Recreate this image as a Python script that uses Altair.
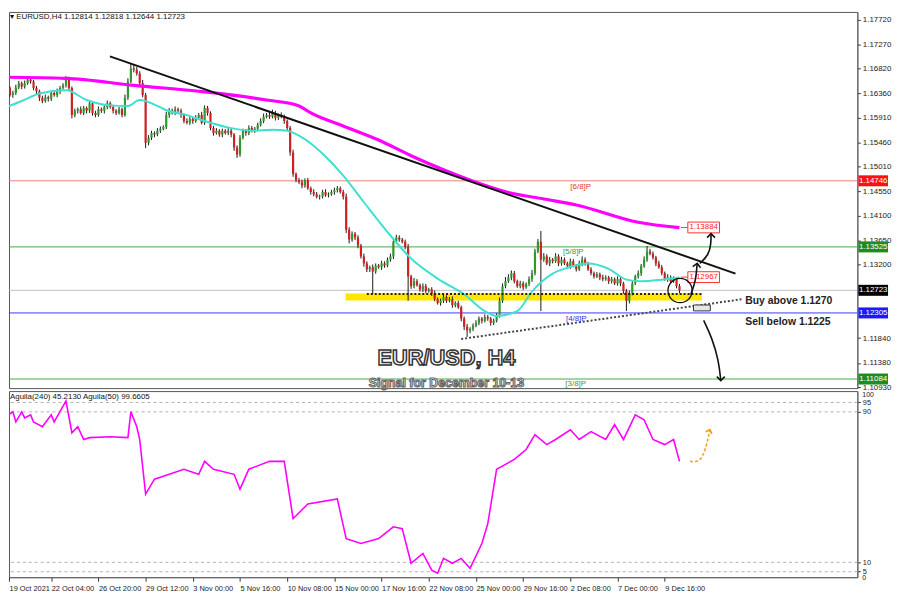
import altair as alt
import pandas as pd

# ---------------- data ----------------
tick_idx = [1.7, 16, 32, 48, 64, 80, 96, 112, 128, 144, 160, 176, 192, 208, 224]
tick_labels = ["19 Oct 2021", "22 Oct 04:00", "26 Oct 20:00", "29 Oct 12:00", "3 Nov 00:00",
               "5 Nov 16:00", "10 Nov 08:00", "15 Nov 00:00", "17 Nov 16:00", "22 Nov 08:00",
               "25 Nov 00:00", "29 Nov 16:00", "2 Dec 08:00", "7 Dec 00:00", "9 Dec 16:00"]

price_ticks = [1.17720, 1.17270, 1.16820, 1.16360, 1.15910, 1.15460, 1.15010, 1.14550,
               1.14100, 1.13650, 1.13200, 1.11840, 1.11380, 1.10930]

first_open = 1.1645
closes = [
    1.1640, 1.1646, 1.1633, 1.1637, 1.1647, 1.1655, 1.1649, 1.1655, 1.1662, 1.1658,
    1.1646, 1.1640, 1.1628, 1.1622, 1.1629, 1.1626, 1.1637, 1.1633, 1.1640, 1.1646,
    1.1651, 1.1662, 1.1646, 1.1596, 1.1604, 1.1607, 1.1600, 1.1609, 1.1604, 1.1618,
    1.1600, 1.1596, 1.1607, 1.1604, 1.1611, 1.1618, 1.1611, 1.1604, 1.1600, 1.1607,
    1.1596, 1.1628, 1.1658, 1.1682, 1.1680, 1.1673, 1.1655, 1.1633, 1.1545, 1.1554,
    1.1563, 1.1560, 1.1567, 1.1571, 1.1574, 1.1596, 1.1604, 1.1600, 1.1607, 1.1604,
    1.1596, 1.1585, 1.1582, 1.1589, 1.1585, 1.1591, 1.1596, 1.1582, 1.1609, 1.1600,
    1.1572, 1.1563, 1.1567, 1.1560, 1.1567, 1.1563, 1.1567, 1.1560, 1.1536, 1.1523,
    1.1554, 1.1567, 1.1563, 1.1572, 1.1567, 1.1571, 1.1578, 1.1585, 1.1593, 1.1596,
    1.1593, 1.1600, 1.1591, 1.1596, 1.1593, 1.1585, 1.1572, 1.1527, 1.1487, 1.1476,
    1.1472, 1.1466, 1.1476, 1.1461, 1.1454, 1.1450, 1.1445, 1.1446, 1.1454, 1.1448,
    1.1450, 1.1454, 1.1457, 1.1461, 1.1454, 1.1445, 1.1384, 1.1366, 1.1377, 1.1370,
    1.1355, 1.1335, 1.1322, 1.1311, 1.1315, 1.1307, 1.1318, 1.1315, 1.1322, 1.1318,
    1.1329, 1.1335, 1.1362, 1.1370, 1.1366, 1.1362, 1.1353, 1.1298, 1.1280, 1.1289,
    1.1282, 1.1274, 1.1280, 1.1271, 1.1274, 1.1267, 1.1256, 1.1249, 1.1253, 1.1260,
    1.1253, 1.1256, 1.1245, 1.1249, 1.1241, 1.1220, 1.1205, 1.1198, 1.1201, 1.1207,
    1.1212, 1.1220, 1.1216, 1.1223, 1.1220, 1.1212, 1.1216, 1.1227, 1.1253, 1.1280,
    1.1289, 1.1296, 1.1304, 1.1289, 1.1280, 1.1285, 1.1278, 1.1284, 1.1293, 1.1304,
    1.1344, 1.1362, 1.1329, 1.1335, 1.1322, 1.1329, 1.1326, 1.1335, 1.1322, 1.1329,
    1.1322, 1.1317, 1.1326, 1.1318, 1.1311, 1.1322, 1.1329, 1.1322, 1.1311, 1.1304,
    1.1298, 1.1302, 1.1296, 1.1293, 1.1296, 1.1289, 1.1293, 1.1285, 1.1293, 1.1285,
    1.1271, 1.1253, 1.1267, 1.1285, 1.1298, 1.1304, 1.1317, 1.1329, 1.1344, 1.1340,
    1.1333, 1.1322, 1.1315, 1.1304, 1.1293, 1.1296, 1.1289, 1.1293, 1.1280, 1.1272,
]
upper_wick_pips = [
    4, 5, 3, 4, 5, 4, 3, 5, 4, 3,  3, 4, 3, 4, 5, 3, 4, 3, 5, 4,
    4, 6, 5, 3, 4, 3, 5, 4, 3, 6,  3, 4, 5, 3, 4, 5, 3, 4, 3, 4,
    3, 6, 6, 10, 8, 5, 4, 6, 4, 5,  4, 3, 5, 4, 3, 6, 5, 4, 5, 3,
    4, 3, 5, 4, 3, 5, 4, 6, 5, 4,  3, 4, 5, 3, 4, 3, 5, 4, 3, 4,
    5, 4, 3, 5, 4, 3, 4, 5, 6, 4,  5, 6, 4, 3, 5, 4, 3, 4, 5, 3,
    4, 5, 3, 4, 3, 5, 4, 3, 4, 5,  3, 4, 5, 4, 3, 4, 6, 5, 4, 3,
    4, 3, 5, 4, 3, 5, 4, 3, 5, 4,  4, 5, 6, 5, 4, 3, 4, 5, 3, 6,
    4, 3, 5, 4, 3, 4, 5, 3, 4, 5,  3, 4, 5, 3, 4, 3, 4, 5, 3, 4,
    5, 4, 3, 5, 4, 3, 4, 3, 6, 5,  8, 6, 5, 4, 3, 5, 4, 3, 5, 6,
    5, 5, 20, 6, 4, 5, 3, 6, 4, 5,  4, 3, 5, 4, 3, 5, 6, 4, 3, 4,
    3, 4, 3, 5, 4, 3, 4, 3, 5, 4,  3, 4, 5, 4, 3, 5, 4, 6, 10, 5,
    4, 3, 5, 4, 3, 6, 4, 5, 3, 4,
]
lower_wick_pips = [
    5, 4, 3, 5, 4, 3, 5, 4, 3, 4,  4, 5, 6, 4, 3, 5, 4, 3, 4, 5,
    3, 4, 5, 6, 4, 5, 3, 4, 5, 4,  5, 4, 3, 4, 5, 4, 3, 5, 4, 3,
    4, 3, 4, 3, 5, 4, 5, 4, 10, 5,  4, 5, 3, 4, 3, 4, 5, 3, 4, 3,
    5, 4, 3, 4, 5, 3, 4, 3, 4, 5,  4, 5, 3, 4, 5, 3, 4, 5, 6, 6,
    4, 3, 5, 4, 3, 4, 5, 3, 4, 3,  4, 3, 5, 4, 3, 5, 4, 6, 5, 4,
    3, 5, 4, 3, 5, 4, 3, 5, 4, 3,  4, 3, 5, 4, 3, 5, 6, 7, 4, 5,
    5, 4, 6, 5, 5, 42, 4, 3, 5, 4,  3, 4, 5, 3, 4, 3, 5, 45, 5, 4,
    3, 4, 5, 4, 3, 5, 4, 3, 5, 4,  4, 3, 5, 4, 3, 5, 6, 12, 5, 4,
    3, 4, 5, 3, 4, 5, 4, 3, 5, 4,  4, 3, 5, 4, 3, 4, 5, 3, 4, 5,
    4, 3, 95, 4, 3, 5, 4, 3, 5, 4,  3, 4, 5, 3, 4, 3, 5, 4, 3, 4,
    4, 3, 5, 4, 3, 5, 4, 3, 4, 5,  5, 19, 5, 4, 3, 4, 5, 3, 4, 3,
    4, 5, 3, 4, 3, 5, 4, 3, 4, 5,
]

ma_slow_idx = [0, 21, 44, 66, 89, 100, 104, 115, 127, 138, 149, 160, 171, 183, 194, 215, 229]
ma_slow_val = [1.1666, 1.1664, 1.1651, 1.1640, 1.1624, 1.1613, 1.1600, 1.1576, 1.1550, 1.1521,
               1.1495, 1.1472, 1.1453, 1.1441, 1.1430, 1.1398, 1.1388]

ma_fast_idx = [0, 6, 12, 21, 28, 36, 42, 46, 52, 55, 62, 68, 77, 84, 91, 96, 100, 110, 115, 122,
               130, 138, 147, 156, 163, 167, 174, 179, 186, 191, 198, 205, 211, 216, 223, 229]
ma_fast_val = [1.1609, 1.1622, 1.1636, 1.1642, 1.1624, 1.1614, 1.1613, 1.1624, 1.1613, 1.1605,
               1.1596, 1.1585, 1.1572, 1.1567, 1.1569, 1.1567, 1.1558, 1.1514, 1.1484, 1.1435,
               1.1380, 1.1331, 1.1294, 1.1265, 1.1234, 1.1225, 1.1234, 1.1270, 1.1303, 1.1314,
               1.1322, 1.1312, 1.1292, 1.1289, 1.1292, 1.1296]

ind_idx = [0, 3, 4, 6, 7, 9, 10, 13, 16, 17, 21, 23, 25, 27, 29, 36, 42, 43, 45, 46,
           48, 51, 56, 61, 66, 68, 71, 78, 80, 83, 90, 95, 98, 103, 113, 116, 121, 127, 132, 135,
           138, 142, 145, 147, 149, 152, 155, 158, 162, 164, 167, 170, 173, 177, 180, 184, 187, 192, 195, 199,
           204, 207, 210, 214, 217, 220, 224, 227, 229]
ind_val = [86.8, 90, 84.7, 90, 86.8, 88.4, 84.7, 82.1, 88.4, 84.7, 95.8, 78.9, 82.1, 75.3, 76.3, 76.8, 76.3, 90, 82.1, 75.3,
           46.3, 54.2, 56.8, 59.5, 56.8, 63.7, 59.5, 56.8, 48.9, 59.5, 63.7, 63.7, 33.2, 41, 43.7, 22.6, 20, 22.6, 28.9, 27.9,
           9.5, 14.7, 5.8, 4.2, 12.1, 9.5, 12.1, 6.8, 20, 30.5, 59.5, 62.1, 64.7, 70, 77.9, 72.6, 75.3, 80.5, 75.3, 79.5,
           75.3, 83.2, 75.3, 88.4, 85.8, 75.3, 72.6, 75.3, 63.7]
ind_levels = [95, 90, 10, 5]
ind_ticks = [95, 90, 10, 5]

level_prices = [1.14746, 1.13525, 1.12723, 1.12305, 1.11084]
level_line_colors = ["#f08080", "#4aa64a", "#c0c0c0", "#3b3bff", "#4aa64a"]
level_box_colors = ["#ff1010", "#1e8c1e", "#000000", "#1a1aff", "#1e8c1e"]

murrey_text = ["[6/8]P", "[5/8]P", "[4/8]P", "[3/8]P"]
murrey_price = [1.14640, 1.13435, 1.12199, 1.10999]
murrey_idx = [192.0, 189.5, 190.5, 190.3]
murrey_colors = ["#e83030", "#3a9a3a", "#3030e0", "#3a9a3a"]

trend_idx = [35.9, 248.0]
trend_val = [1.17046, 1.13032]
support_idx = [155.0, 250.0]
support_val = [1.11824, 1.12557]
band_idx = [115.8, 236.6]
band_val = [1.12533, 1.12666]
band_line_idx = [123.0, 236.6]
band_line_val = 1.12655

ma_labels = ["1.13884", "1.12967"]
ma_label_val = [1.13884, 1.12967]

# ---------------- frames ----------------
W, H1, H2 = 857, 380, 188
xs = alt.Scale(domain=[1.68, 289.3], nice=False, zero=False)
ys = alt.Scale(domain=[1.10916, 1.17866], nice=False, zero=False)
vs = alt.Scale(domain=[2.1, 101.05], nice=False, zero=False)
FONT = "Liberation Sans"

price_axis = alt.Axis(orient="right", values=price_ticks, format=".5f", labelFontSize=8, labelFont=FONT,
                      tickSize=3, tickColor="#333", domainColor="#666", labelColor="#222", grid=False,
                      title=None, labelPadding=2, labelOverlap=False)
arr = "[" + ",".join("'%s'" % t for t in tick_labels) + "]"
time_axis = alt.Axis(values=tick_idx, labelExpr=arr + "[round(datum.value/16)]", labelAlign="left",
                     labelFontSize=7.5, labelFont=FONT, tickSize=4, tickColor="#333", labelPadding=3,
                     grid=False, title=None, domainColor="#666", labelColor="#222",
                     labelOverlap=False, labelFlush=False)
ind_axis = alt.Axis(orient="right", values=ind_ticks, labelFontSize=7.5, labelFont=FONT, tickSize=3,
                    tickColor="#333", domainColor="#666", labelColor="#222", grid=False, title=None,
                    labelPadding=2, labelOverlap=False)


def XP(f):
    return alt.X(f, type="quantitative", scale=xs, axis=None)


def XI(f):
    return alt.X(f, type="quantitative", scale=xs, axis=time_axis)


def YP(f):
    return alt.Y(f, type="quantitative", scale=ys, axis=price_axis)


def YI(f):
    return alt.Y(f, type="quantitative", scale=vs, axis=ind_axis)


rows = []
prev = first_open
for k, c in enumerate(closes):
    o = prev
    rows.append(dict(i=k, o=o, c=c,
                     h=max(o, c) + upper_wick_pips[k] * 0.0001,
                     l=min(o, c) - lower_wick_pips[k] * 0.0001,
                     col="#2e9a2e" if c >= o else "#d02020"))
    prev = c
cdf = pd.DataFrame(rows)

band = alt.Chart(pd.DataFrame({"a": [band_idx[0]], "b": [band_idx[1]], "p": [band_val[0]], "q": [band_val[1]]})
                 ).mark_rect(color="#ffe600", clip=True).encode(x=XP("a"), x2="b", y=YP("p"), y2="q")

levels = alt.Chart(pd.DataFrame({"p": level_prices, "col": level_line_colors})).mark_rule(strokeWidth=1).encode(
    y=YP("p"), color=alt.Color("col:N", scale=None))

wicks = alt.Chart(cdf).mark_rule(color="#1a1a1a", strokeWidth=1, clip=True).encode(x=XP("i"), y=YP("l"), y2="h")
bodies = alt.Chart(cdf).mark_rule(strokeWidth=2.2, clip=True).encode(
    x=XP("i"), y=YP("o"), y2="c", color=alt.Color("col:N", scale=None))

ma_slow = alt.Chart(pd.DataFrame({"i": ma_slow_idx, "p": ma_slow_val})).mark_line(
    color="#ff00ff", strokeWidth=3.2, interpolate="monotone", clip=True).encode(x=XP("i"), y=YP("p"))
ma_fast = alt.Chart(pd.DataFrame({"i": ma_fast_idx, "p": ma_fast_val})).mark_line(
    color="#40e0d0", strokeWidth=2, interpolate="monotone", clip=True).encode(x=XP("i"), y=YP("p"))

trend = alt.Chart(pd.DataFrame({"i": trend_idx, "p": trend_val})).mark_line(
    color="#111", strokeWidth=2).encode(x=XP("i"), y=YP("p"))
support = alt.Chart(pd.DataFrame({"i": support_idx, "p": support_val})).mark_line(
    color="#444", strokeWidth=2, strokeDash=[2, 2]).encode(x=XP("i"), y=YP("p"))
band_line = alt.Chart(pd.DataFrame({"i": band_line_idx, "p": [band_line_val] * 2})).mark_line(
    color="#222", strokeWidth=2, strokeDash=[2, 2]).encode(x=XP("i"), y=YP("p"))

murrey = alt.Chart(pd.DataFrame({"i": murrey_idx, "p": murrey_price, "t": murrey_text, "col": murrey_colors})
                   ).mark_text(align="left", baseline="middle", fontSize=8, font=FONT).encode(
    x=XP("i"), y=YP("p"), text="t:N", color=alt.Color("col:N", scale=None))

# annotation arrows
arrows = pd.DataFrame({
    "a": [1, 1, 1, 2, 2, 2, 2, 3, 3, 3, 3],
    "k": [0, 1, 2, 0, 1, 2, 3, 0, 1, 2, 3],
    "i": [232.8, 234.5, 235.0, 235.9, 238.9, 239.7, 239.7, 237.2, 240.0, 242.3, 243.0],
    "p": [1.12643, 1.12886, 1.13221, 1.13221, 1.13375, 1.13587, 1.13770, 1.12167, 1.11848, 1.11422, 1.11056],
})
arrow_lines = alt.Chart(arrows).mark_line(color="#111", strokeWidth=1.6, interpolate="basis").encode(
    x=XP("i"), y=YP("p"), detail="a:N", order="k:Q")
chev = "M-0.8,0.8L0,0L0.8,0.8"
heads = alt.Chart(pd.DataFrame({"i": [235.0, 239.7, 243.0], "p": [1.13221, 1.13770, 1.11056], "ang": [8, 0, 180]})
                  ).mark_point(shape=chev, size=100, filled=False, color="#111", strokeWidth=1.6, opacity=1).encode(
    x=XP("i"), y=YP("p"), angle=alt.Angle("ang:Q", scale=None))
circle = alt.Chart(pd.DataFrame({"i": [229.2], "p": [1.12718]})).mark_point(
    shape="circle", size=600, filled=False, color="#111", strokeWidth=1.3, opacity=1).encode(x=XP("i"), y=YP("p"))
rect_shape = "M-1,-0.35H1V0.35H-1Z"
small_box = alt.Chart(pd.DataFrame({"i": [236.6], "p": [1.12397]})).mark_point(
    shape=rect_shape, size=289, filled=True, fill="#e6e6e6", stroke="#333", strokeWidth=1, opacity=1).encode(
    x=XP("i"), y=YP("p"))

# in-chart value boxes for MAs
ma_box_df = pd.DataFrame({"i": [237.2, 237.2], "p": ma_label_val, "t": ma_labels})
ma_conn = alt.Chart(pd.DataFrame({"i": [229.5, 229.5], "i2": [232.0, 232.0], "p": ma_label_val})).mark_rule(
    color="#ff4040", strokeWidth=1).encode(x=XP("i"), x2="i2", y=YP("p"))
box_shape = "M-1,-0.34H1V0.34H-1Z"
ma_box = alt.Chart(ma_box_df).mark_point(shape=box_shape, size=1024, filled=True, fill="#ffffff",
                                         stroke="#ff3030", strokeWidth=1, opacity=1).encode(x=XP("i"), y=YP("p"))
ma_box_t = alt.Chart(ma_box_df).mark_text(fontSize=8, font=FONT, color="#ff2020", baseline="middle").encode(
    x=XP("i"), y=YP("p"), text="t:N")

# big title texts (white with dark outline)
t_df = pd.DataFrame({"i": [150.0], "p": [1.11468], "t": ["EUR/USD, H4"]})
s_df = pd.DataFrame({"i": [150.0], "p": [1.11019], "t": ["Signal for December 10-13"]})
title_txt = alt.Chart(t_df).mark_text(fontSize=22, fontWeight="bold", font=FONT, color="#ffffff",
                                      stroke="#333333", strokeWidth=1.5, baseline="middle").encode(
    x=XP("i"), y=YP("p"), text="t:N")
sub_txt = alt.Chart(s_df).mark_text(fontSize=12.5, fontWeight="bold", font=FONT, color="#ffffff",
                                    stroke="#666666", strokeWidth=1.1, baseline="middle").encode(
    x=XP("i"), y=YP("p"), text="t:N")

sig_df = pd.DataFrame({"i": [251.3, 251.3], "p": [1.12520, 1.12135], "t": ["Buy above 1.1270", "Sell below 1.1225"]})
signals = alt.Chart(sig_df).mark_text(align="left", baseline="middle", fontSize=10.5, fontWeight="bold",
                                      font=FONT, color="#222").encode(x=XP("i"), y=YP("p"), text="t:N")

header = alt.Chart(pd.DataFrame({"t": ["▾ EURUSD,H4  1.12814 1.12818 1.12644 1.12723"]})).mark_text(
    align="left", baseline="middle", fontSize=8, font=FONT, color="#111").encode(
    x=alt.value(1), y=alt.value(5), text="t:N")

# right-axis coloured price boxes
lvl_df = pd.DataFrame({"p": level_prices, "col": level_box_colors, "t": ["%.5f" % v for v in level_prices]})
lvl_box = alt.Chart(lvl_df).mark_point(shape="M-1,-0.37H1V0.37H-1Z", size=900, filled=True, opacity=1,
                                       strokeWidth=0).encode(
    x=alt.value(W + 16), y=YP("p"), fill=alt.Fill("col:N", scale=None))
lvl_txt = alt.Chart(lvl_df).mark_text(fontSize=8, font=FONT, color="#ffffff", baseline="middle").encode(
    x=alt.value(W + 16), y=YP("p"), text="t:N")

main = alt.layer(band, levels, wicks, bodies, ma_fast, ma_slow, trend, support, band_line, murrey,
                 ma_conn, ma_box, ma_box_t, arrow_lines, heads, circle, small_box,
                 title_txt, sub_txt, signals, header,
                 lvl_box, lvl_txt).properties(width=W, height=H1)

# ---------------- indicator panel ----------------
ind_lv = alt.Chart(pd.DataFrame({"v": ind_levels})).mark_rule(
    color="#b0b0b0", strokeDash=[3, 3], strokeWidth=1).encode(y=YI("v"))
ind_line = alt.Chart(pd.DataFrame({"i": ind_idx, "v": ind_val})).mark_line(
    color="#ff00ff", strokeWidth=1.6, clip=True).encode(x=XI("i"), y=YI("v"))
orange = alt.Chart(pd.DataFrame({"k": [0, 1, 2, 3], "i": [232.6, 235.9, 237.9, 239.3], "v": [63.7, 63.2, 70.0, 80.5]})
                   ).mark_line(color="#f4a020", strokeWidth=1.6, strokeDash=[3, 2], interpolate="basis").encode(
    x=XI("i"), y=YI("v"), order="k:Q")
orange_head = alt.Chart(pd.DataFrame({"i": [239.3], "v": [80.5], "ang": [20]})).mark_point(
    shape=chev, size=70, filled=False, color="#f4a020", strokeWidth=1.8, opacity=1).encode(
    x=XI("i"), y=YI("v"), angle=alt.Angle("ang:Q", scale=None))
ind_label = alt.Chart(pd.DataFrame({"t": ["Aguila(240) 45.2130  Aguila(50) 99.6605"]})).mark_text(
    align="left", baseline="middle", fontSize=8, font=FONT, color="#111").encode(
    x=alt.value(1), y=alt.value(6), text="t:N")
edge_labs = alt.Chart(pd.DataFrame({"t": ["100", "0"], "yy": [4, H2 + 1]})).mark_text(
    align="left", baseline="middle", fontSize=7, font=FONT, color="#222").encode(
    x=alt.value(W + 5), y=alt.Y("yy:Q", scale=None), text="t:N")

ind = alt.layer(ind_lv, ind_line, orange, orange_head, ind_label, edge_labs).properties(width=W, height=H2)

chart = alt.vconcat(main, ind, spacing=3, bounds="flush").properties(
    padding=0, background="#ffffff").configure_view(stroke="#555", strokeWidth=1)

chart.save("out.html", embed_options={"renderer": "svg", "actions": False})
